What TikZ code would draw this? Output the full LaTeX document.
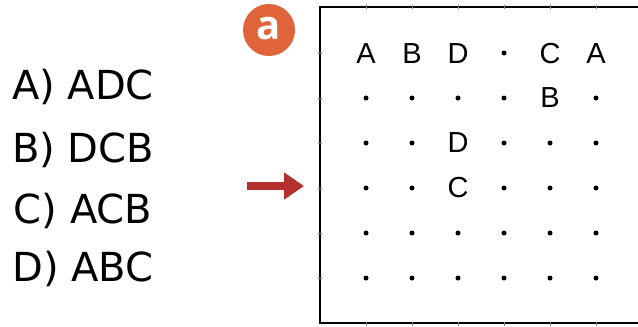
\documentclass[tikz,border=0pt]{standalone}
\usepackage{fontspec}
\setmainfont{DejaVu Sans}
\newfontfamily\gridfont{Liberation Sans}
\newfontfamily\badgefont{Open Sans}
\usepackage{xcolor}
\usetikzlibrary{positioning, arrows.meta}
\definecolor{badge}{HTML}{E0643A}
\definecolor{darkred}{HTML}{B5302C}
\tikzstyle{option} = [anchor=west, inner sep=0pt, font=\fontsize{40}{46}\selectfont]
\tikzstyle{letter} = [inner sep=0pt, font=\gridfont\fontsize{29}{34}\selectfont]
\tikzstyle{dot} = [circle, fill=black, inner sep=0pt, minimum size=5pt]
\tikzstyle{arrow} = [line width=8pt, color=darkred, -{Triangle[length=20pt, width=26pt]}]

\begin{document}
\begin{tikzpicture}[x=1pt, y=-1pt, node distance=61pt]
    \useasboundingbox (0,0) rectangle (638,327);
    % answer options
    \node (optA) [option] at (12,87) {A) ADC};
    \node (optB) [option, below of = optA, yshift = -2pt] {B) DCB};
    \node (optC) [option, below of = optB] {C) ACB};
    \node (optD) [option, below of = optC, yshift = 3pt] {D) ABC};
    % badge
    \node (badge) [circle, fill=badge, minimum size=52pt, inner sep=0pt, text=white,
        font=\badgefont\fontsize{40}{44}\selectfont\bfseries] at (269,30) {\raisebox{3pt}{a}};
    % frame
    \draw [line width=2.6pt] (660,7) -- (320,7) -- (320,323) -- (660,323);
    \foreach \c in {1,...,6} {
        \draw [line width=0.8pt, gray] (320+46*\c,5) -- +(0,4);
        \draw [line width=0.8pt, gray] (320+46*\c,322) -- +(0,4);
    }
    \foreach \r in {0,...,5}
        \draw [line width=0.8pt, gray] (318,53+45*\r) -- +(4,0);
    % grid of dots
    \foreach \c in {1,...,6}
        \foreach \r in {1,...,5}
            \node (g-\c-\r) [dot] at (320+46*\c,53+45*\r) {};
    \node (g-4-0) [dot] at (504,53) {};
    % letters
    \node (rA1) [letter] at (366,54) {A};
    \node (rB1) [letter] at (412,54) {B};
    \node (rD1) [letter] at (458,54) {D};
    \node (rC1) [letter] at (550,54) {C};
    \node (rA2) [letter] at (596,54) {A};
    \node (rB2) [letter, fill=white, minimum size=22pt] at (550,98) {B};
    \node (rD2) [letter, fill=white, minimum size=22pt] at (458,143) {D};
    \node (rC2) [letter, fill=white, minimum size=22pt] at (458,188) {C};
    % pointer
    \coordinate (tail) at (247,186);
    \coordinate (tip) at (304,186);
    \draw [arrow] (tail) -- (tip);
\end{tikzpicture}
\end{document}
